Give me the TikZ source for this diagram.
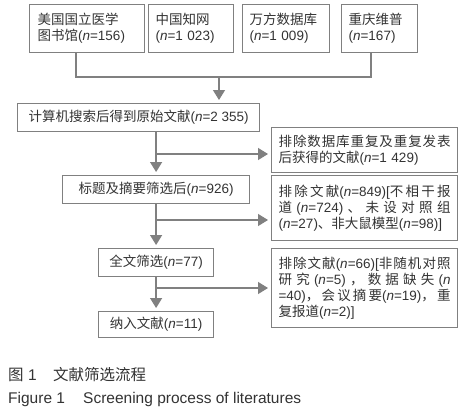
\documentclass[tikz,border=0pt]{standalone}
\usepackage{fontspec}
\setmainfont{Liberation Sans}
\newfontfamily\cjk{Noto Sans CJK SC}
\usetikzlibrary{arrows.meta}
\newcommand\C[1]{{\cjk #1}}
\newcommand\N{\textit{n}}
\newcommand\J[1]{\makebox[\linewidth][s]{#1}}
\definecolor{lc}{HTML}{808080}
\definecolor{tc}{HTML}{333333}
\begin{document}
\begin{tikzpicture}[x=1pt,y=-1pt,
  box/.style={draw=lc, line width=1.2pt, inner sep=0pt, text=tc,
    font=\fontsize{13.5}{16}\selectfont, anchor=north west},
  lbox/.style={box, align=left},
  cbox/.style={box, align=center},
  arr/.style={draw=lc, line width=1.3pt, -{Triangle[width=12pt,length=10pt]}, shorten >=3pt},
  ln/.style={draw=lc, line width=1.3pt},
  captxt/.style={inner sep=0pt, anchor=west, text=tc, font=\fontsize{15.5}{18}\selectfont}]
\useasboundingbox (0,0) rectangle (467,413);
\fill[white] (0,0) rectangle (467,413);

% source boxes
\node[lbox, minimum width=115pt, minimum height=48pt, text width=99pt] (b1) at (29,4)
  {\C{美国国立医学}\\\C{图书馆}(\N=156)};
\node[lbox, minimum width=85pt, minimum height=48pt, text width=71pt] (b2) at (148,4)
  {\C{中国知网}\\(\N=1 023)};
\node[lbox, minimum width=87pt, minimum height=48pt, text width=73pt] (b3) at (242,4)
  {\C{万方数据库}\\(\N=1 009)};
\node[lbox, minimum width=76pt, minimum height=48pt, text width=62pt] (b4) at (341,4)
  {\C{重庆维普}\\(\N=167)};

% main column
\node[cbox, minimum width=242pt, minimum height=28pt] (b5) at (17,103)
  {\C{计算机搜索后得到原始文献}(\N=2 355)};
\node[cbox, minimum width=187pt, minimum height=28pt] (b6) at (62,175)
  {\C{标题及摘要筛选后}(\N=926)};
\node[cbox, minimum width=115pt, minimum height=28pt] (b9) at (98,248)
  {\C{全文筛选}(\N=77)};
\node[cbox, minimum width=115pt, minimum height=26pt] (b11) at (98,311)
  {\C{纳入文献}(\N=11)};

% exclusion boxes
\node[lbox, minimum width=186pt, minimum height=45pt, text width=172pt] (b7) at (271,127)
  {\J{\C{排\hfil 除\hfil 数\hfil 据\hfil 库\hfil 重\hfil 复\hfil 及\hfil 重\hfil 复\hfil 发\hfil 表}}\\
   \C{后获得的文献}(\N=1 429)};
\node[lbox, minimum width=186pt, minimum height=65pt, text width=172pt] (b8) at (271,175)
  {\J{\C{排\hfil 除\hfil 文\hfil 献}(\N=849)[\C{不\hfil 相\hfil 干\hfil 报}}\\
   \J{\C{道}\hfil(\N=724)\hfil\C{、}\hfil\C{未\hfil 设\hfil 对\hfil 照\hfil 组}}\\
   (\N=27)\C{、非大鼠模型}(\N=98)]};
\node[lbox, minimum width=186pt, minimum height=79pt, text width=172pt] (b10) at (271,248)
  {\J{\C{排\hfil 除\hfil 文\hfil 献}(\N=66)[\C{非\hfil 随\hfil 机\hfil 对\hfil 照}}\\
   \J{\C{研\hfil 究}\hfil(\N=5)\hfil\C{，}\hfil\C{数\hfil 据\hfil 缺\hfil 失}\hfil(\N}\\
   \J{=40)\C{，}\hfil\C{会\hfil 议\hfil 摘\hfil 要}(\N=19)\C{，}\hfil\C{重}}\\
   \C{复报道}(\N=2)]};

% connectors
\coordinate (h1) at (76,77);
\coordinate (h2) at (371,77);
\coordinate (h3) at (219,77);
\draw[ln] ([xshift=47pt]b1.south west) -- (h1) -- (h2) -- ([xshift=30pt]b4.south west);
\draw[arr] (h3) -- (h3 |- b5.north);

\draw[arr] (b5.south -| b6.north) -- (b6.north);
\coordinate (br1) at (155.5,154);
\draw[arr] (br1) -- (br1 -| b7.west);

\draw[arr] (b6.south) -- (b6.south |- b9.north);
\coordinate (br2) at (155.5,220);
\draw[arr] (br2) -- (br2 -| b8.west);

\draw[arr] (b9.south) -- (b9.south |- b11.north);
\coordinate (br3) at (155.5,288);
\draw[arr] (br3) -- (br3 -| b10.west);

% caption
\node[captxt] (c1a) at (8,375) {\C{图} 1};
\node[captxt] (c1b) at (53,375) {\C{文献筛选流程}};
\node[captxt] (c2a) at (8,399) {Figure 1};
\node[captxt] (c2b) at (83,399) {Screening process of literatures};
\end{tikzpicture}
\end{document}
